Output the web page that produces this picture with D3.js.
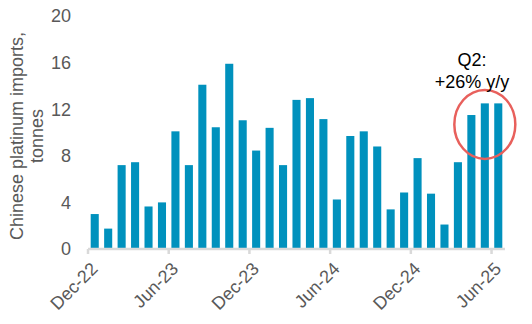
<!DOCTYPE html>
<html>
<head>
<meta charset="utf-8">
<script src="https://cdn.jsdelivr.net/npm/d3@7"></script>
<style>
  body { margin: 0; background: #fff; }
  svg { display: block; font-family: "Liberation Sans", Arial, sans-serif; }
</style>
</head>
<body>
<svg id="chart" width="532" height="324"></svg>
<script>
// monthly imports, Dec-22 .. Jun-25
const months = [
    'Dec-22', 'Jan-23', 'Feb-23', 'Mar-23', 'Apr-23', 'May-23', 'Jun-23',
    'Jul-23', 'Aug-23', 'Sep-23', 'Oct-23', 'Nov-23', 'Dec-23',
    'Jan-24', 'Feb-24', 'Mar-24', 'Apr-24', 'May-24', 'Jun-24',
    'Jul-24', 'Aug-24', 'Sep-24', 'Oct-24', 'Nov-24', 'Dec-24',
    'Jan-25', 'Feb-25', 'Mar-25', 'Apr-25', 'May-25', 'Jun-25'
];
const tonnes = [
    3.0, 1.75, 7.2, 7.45, 3.65, 4.0, 10.1,
    7.2, 14.1, 10.45, 15.9, 11.05, 8.45,
    10.4, 7.2, 12.8, 12.95, 11.15, 4.25,
    9.7, 10.1, 8.8, 3.4, 4.85, 7.8,
    4.75, 2.1, 7.45, 11.5, 12.5, 12.5
];
const yTicks = [0, 4, 8, 12, 16, 20];
const xLabels = ['Dec-22', 'Jun-23', 'Dec-23', 'Jun-24', 'Dec-24', 'Jun-25'];
const q2Months = ['Apr-25', 'May-25', 'Jun-25'];
const noteLines = ['Q2:', '+26% y/y'];

const svg = d3.select('#chart');
const textColor = '#595959';
const fontSize = 18;

let x = d3.scaleBand()
    .domain(months)
    .range([88, 505])
    .paddingInner(0.4)
    .paddingOuter(0.2);

let y = d3.scaleLinear()
    .domain([0, 20])
    .range([249, 16]);

// bars
svg.append('g')
    .selectAll('rect')
    .data(months)
    .enter().append('rect')
    .attr('x', d => x(d))
    .attr('width', x.bandwidth())
    .attr('y', (d, i) => y(tonnes[i]))
    .attr('height', (d, i) => y(0) - y(tonnes[i]))
    .attr('fill', '#0091bd');

// x axis: baseline, ticks between categories every 6 months
let half = x.step() * x.paddingInner() / 2;
let axis = svg.append('g');
axis.append('line')
    .attr('x1', x.range()[0])
    .attr('x2', x.range()[1])
    .attr('y1', y(0))
    .attr('y2', y(0))
    .attr('stroke', '#d9d9d9')
    .attr('stroke-width', 2.5);
axis.selectAll('.tick')
    .data(xLabels)
    .enter().append('line')
    .attr('x1', d => x(d) - half)
    .attr('x2', d => x(d) - half)
    .attr('y1', y(0))
    .attr('y2', y(0) + 5)
    .attr('stroke', '#d9d9d9')
    .attr('stroke-width', 2.5);
axis.selectAll('text')
    .data(xLabels)
    .enter().append('text')
    .attr('text-anchor', 'end')
    .attr('font-size', fontSize)
    .attr('fill', textColor)
    .attr('transform', d => 'translate(' + (x(d) + x.bandwidth() / 2 + 4) + ',' + (y(0) + 21) + ') rotate(-45)')
    .text(d => d);

// y axis labels (no line)
svg.append('g')
    .selectAll('text')
    .data(yTicks)
    .enter().append('text')
    .attr('x', 71)
    .attr('y', d => y(d))
    .attr('dy', '0.35em')
    .attr('text-anchor', 'end')
    .attr('font-size', fontSize)
    .attr('fill', textColor)
    .text(d => d);

// y title
let title = svg.append('text')
    .attr('transform', 'translate(23,136) rotate(-90)')
    .attr('text-anchor', 'middle')
    .attr('font-size', fontSize)
    .attr('fill', textColor);
title.append('tspan').attr('x', 0).attr('y', 0).text('Chinese platinum imports,');
title.append('tspan').attr('x', 0).attr('y', 20).text('tonnes');

// Q2 annotation
let qx0 = x(q2Months[0]) - half;
let qx1 = x(q2Months[2]) + x.bandwidth() + half;
let topQ = d3.max(q2Months, d => tonnes[months.indexOf(d)]);
svg.append('ellipse')
    .attr('cx', (qx0 + qx1) / 2)
    .attr('cy', y(topQ) + 21)
    .attr('rx', 30.5)
    .attr('ry', 34.5)
    .attr('fill', 'none')
    .attr('stroke', '#e8605c')
    .attr('stroke-width', 2.5);

svg.append('g')
    .selectAll('text')
    .data(noteLines)
    .enter().append('text')
    .attr('x', 472)
    .attr('y', (d, i) => 66 + i * 22)
    .attr('text-anchor', 'middle')
    .attr('font-size', fontSize)
    .attr('fill', '#000')
    .text(d => d);
</script>
</body>
</html>
